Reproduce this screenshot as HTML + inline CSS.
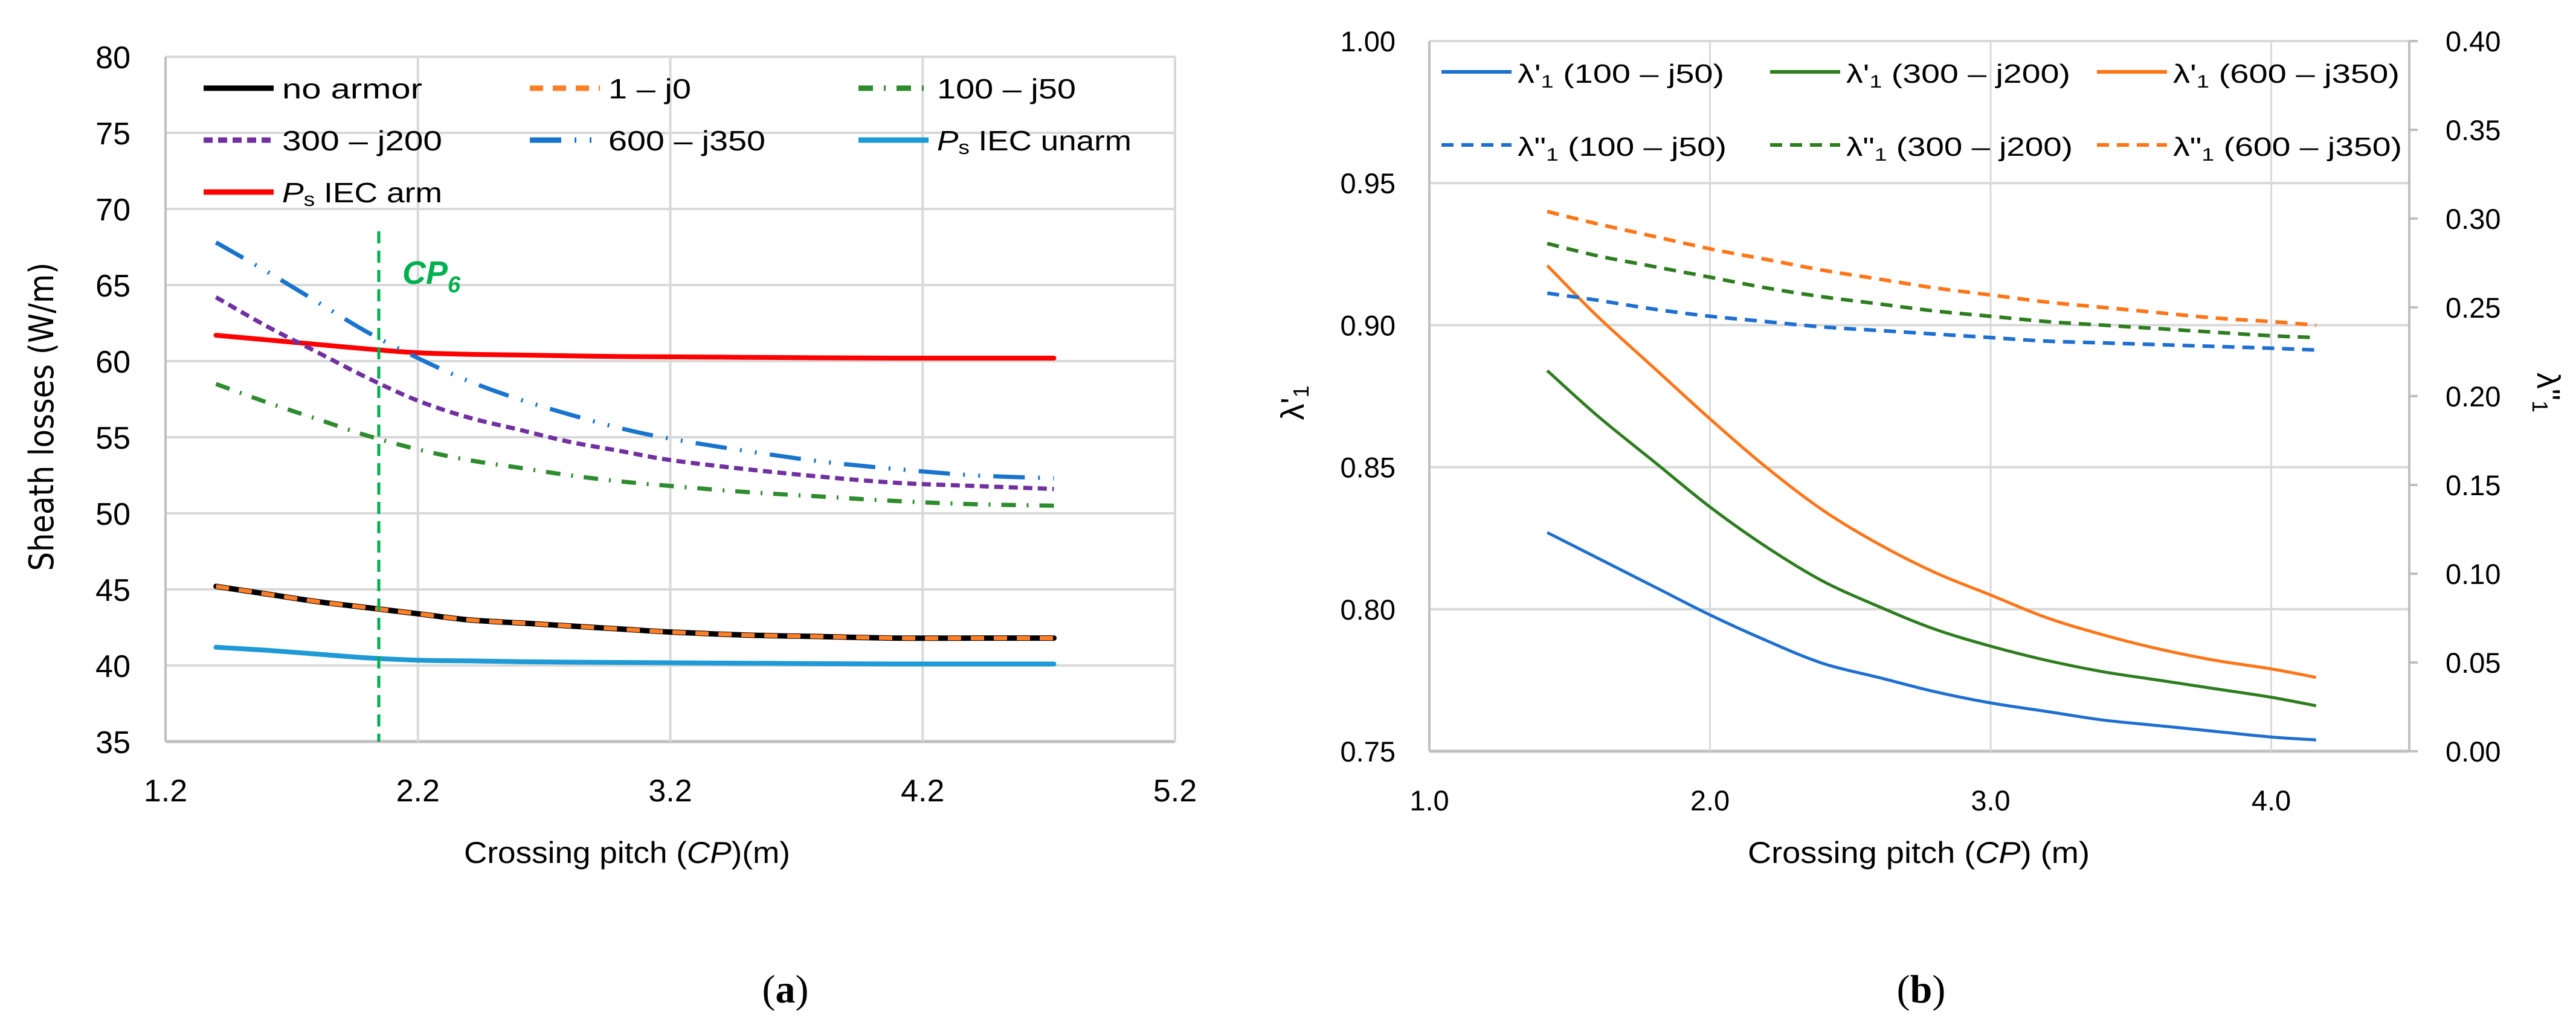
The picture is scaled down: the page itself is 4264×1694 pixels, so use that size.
<!DOCTYPE html>
<html><head><meta charset="utf-8">
<style>
html,body{margin:0;padding:0;background:#fff;}
svg{display:block;}
text{font-family:"Liberation Sans",sans-serif;fill:#000;}
</style></head>
<body>
<svg id="fig" width="4264" height="1694" viewBox="0 0 4264 1694" xmlns="http://www.w3.org/2000/svg">
<g id="chartA"></g>
<g id="chartB"></g>
</svg>
<script>
// ---------- Chart (a) data ----------
const aXTicks = [1.2, 2.2, 3.2, 4.2, 5.2];
const aXTickLabels = ["1.2", "2.2", "3.2", "4.2", "5.2"];
const aYTicks = [35, 40, 45, 50, 55, 60, 65, 70, 75, 80];
const aX = [1.4, 1.6, 1.8, 2.0, 2.2, 2.4, 2.6, 2.8, 3.0, 3.2, 3.5, 3.8, 4.1, 4.4, 4.72];
const noArmor = [45.2, 44.7, 44.2, 43.8, 43.4, 43.0, 42.8, 42.6, 42.4, 42.2, 42.0, 41.9, 41.8, 41.8, 41.8];
const r1j0 = [45.2, 44.7, 44.2, 43.8, 43.4, 43.0, 42.8, 42.6, 42.4, 42.2, 42.0, 41.9, 41.8, 41.8, 41.8];
const r100j50 = [58.5, 57.3, 56.2, 55.1, 54.2, 53.5, 53.0, 52.5, 52.1, 51.8, 51.4, 51.1, 50.8, 50.6, 50.5];
const r300j200 = [64.2, 62.3, 60.6, 58.9, 57.4, 56.3, 55.5, 54.7, 54.1, 53.5, 52.9, 52.4, 52.0, 51.8, 51.6];
const r600j350 = [67.8, 65.9, 63.9, 61.9, 60.2, 58.7, 57.5, 56.5, 55.6, 54.9, 54.1, 53.4, 52.9, 52.5, 52.3];
const iecUnarm = [41.2, 41.0, 40.75, 40.5, 40.35, 40.3, 40.25, 40.22, 40.2, 40.18, 40.15, 40.12, 40.1, 40.1, 40.1];
const iecArm = [61.7, 61.4, 61.1, 60.8, 60.55, 60.45, 60.4, 60.35, 60.3, 60.28, 60.25, 60.22, 60.2, 60.2, 60.2];
const cp6Value = 2.045;

// ---------- Chart (b) data ----------
const bXTicks = [1.0, 2.0, 3.0, 4.0];
const bXTickLabels = ["1.0", "2.0", "3.0", "4.0"];
const bYTicks = [0.75, 0.80, 0.85, 0.90, 0.95, 1.00];
const bYTickLabels = ["0.75", "0.80", "0.85", "0.90", "0.95", "1.00"];
const bY2Ticks = [0, 0.05, 0.10, 0.15, 0.20, 0.25, 0.30, 0.35, 0.40];
const bY2TickLabels = ["0.00", "0.05", "0.10", "0.15", "0.20", "0.25", "0.30", "0.35", "0.40"];
const bX = [1.42, 1.6, 1.8, 2.0, 2.2, 2.4, 2.6, 2.8, 3.0, 3.2, 3.4, 3.6, 3.8, 4.0, 4.16];
const l1_100 = [0.827, 0.818, 0.808, 0.798, 0.789, 0.781, 0.776, 0.771, 0.767, 0.764, 0.761, 0.759, 0.757, 0.755, 0.754];
const l1_300 = [0.884, 0.868, 0.852, 0.836, 0.822, 0.810, 0.801, 0.793, 0.787, 0.782, 0.778, 0.775, 0.772, 0.769, 0.766];
const l1_600 = [0.921, 0.903, 0.885, 0.867, 0.850, 0.835, 0.823, 0.813, 0.805, 0.797, 0.791, 0.786, 0.782, 0.779, 0.776];
const l2_100 = [0.258, 0.254, 0.249, 0.245, 0.242, 0.239, 0.237, 0.235, 0.233, 0.231, 0.230, 0.229, 0.228, 0.227, 0.226];
const l2_300 = [0.286, 0.279, 0.273, 0.267, 0.261, 0.256, 0.252, 0.248, 0.245, 0.242, 0.240, 0.238, 0.236, 0.234, 0.233];
const l2_600 = [0.304, 0.297, 0.290, 0.283, 0.277, 0.271, 0.266, 0.261, 0.257, 0.253, 0.250, 0.247, 0.244, 0.242, 0.240];

const NS = "http://www.w3.org/2000/svg";
function mk(parent, tag, attrs, text) {
  const e = document.createElementNS(NS, tag);
  for (const k in attrs) e.setAttribute(k, attrs[k]);
  if (text !== undefined) e.textContent = text;
  parent.appendChild(e);
  return e;
}
function smoothPath(pts) {
  let d = "M" + pts[0][0].toFixed(1) + "," + pts[0][1].toFixed(1);
  for (let i = 0; i < pts.length - 1; i++) {
    const p0 = pts[Math.max(i - 1, 0)], p1 = pts[i], p2 = pts[i + 1], p3 = pts[Math.min(i + 2, pts.length - 1)];
    const c1x = p1[0] + (p2[0] - p0[0]) / 6, c1y = p1[1] + (p2[1] - p0[1]) / 6;
    const c2x = p2[0] - (p3[0] - p1[0]) / 6, c2y = p2[1] - (p3[1] - p1[1]) / 6;
    d += " C" + c1x.toFixed(1) + "," + c1y.toFixed(1) + " " + c2x.toFixed(1) + "," + c2y.toFixed(1) + " " + p2[0].toFixed(1) + "," + p2[1].toFixed(1);
  }
  return d;
}

// ================= Chart A =================
(function () {
  const g = document.getElementById("chartA");
  const L = 274, R = 1945, T = 94, B = 1228;
  const xs = v => L + (v - 1.2) / 4 * (R - L);
  const ys = v => B - (v - 35) / 45 * (B - T);

  aYTicks.forEach(v => {
    const ln = mk(g, "line", {x1: L, x2: R, y1: ys(v), y2: ys(v), stroke: v === 35 ? "#bfbfbf" : "#d9d9d9", "stroke-width": v === 35 ? 5 : 4});
    
    
    const t = mk(g, "text", {x: 216, y: ys(v) + 19, "text-anchor": "end", "font-size": 52}, String(v));
    
    
  });
  aXTicks.forEach((v, i) => {
    if (i > 0) {
      const ln = mk(g, "line", {x1: xs(v), x2: xs(v), y1: T, y2: B, stroke: "#d9d9d9", "stroke-width": 4});
      
      
    }
    const t = mk(g, "text", {x: xs(v), y: 1327, "text-anchor": "middle", "font-size": 52}, aXTickLabels[i]);
    
    
  });
  const la = mk(g, "line", {x1: L, x2: L, y1: T, y2: B, stroke: "#bfbfbf", "stroke-width": 4});
  
  

  const series = [
    {name: "series-no-armor", vals: noArmor, color: "#000000", w: 9, dash: null},
    {name: "series-1-j0", vals: r1j0, color: "#ff7f27", w: 7, dash: "22 16"},
    {name: "series-100-j50", vals: r100j50, color: "#2e8b2e", w: 7, dash: "24 18 3 18"},
    {name: "series-300-j200", vals: r300j200, color: "#7030a0", w: 7, dash: "15 9"},
    {name: "series-600-j350", vals: r600j350, color: "#1874cd", w: 7, dash: "52 22 3 22 3 22"},
    {name: "series-iec-unarm", vals: iecUnarm, color: "#1e9ad6", w: 8, dash: null},
    {name: "series-iec-arm", vals: iecArm, color: "#ff0000", w: 8, dash: null}
  ];
  const order = [6, 5, 4, 3, 2, 0, 1];
  order.forEach(i => {
    const s = series[i];
    const pts = aX.map((x, k) => [xs(x), ys(s.vals[k])]);
    const a = {d: smoothPath(pts), fill: "none", stroke: s.color, "stroke-width": s.w, "stroke-linecap": s.dash ? "butt" : "round"};
    if (s.dash) a["stroke-dasharray"] = s.dash;
    const p = mk(g, "path", a);
    
    
  });

  const cp = mk(g, "line", {x1: xs(cp6Value), x2: xs(cp6Value), y1: 383, y2: B, stroke: "#00b050", "stroke-width": 5, "stroke-dasharray": "20 12"});
  
  
  const cpt = mk(g, "text", {x: 666, y: 470, "font-size": 54, "font-weight": "bold", "font-style": "italic", style: "fill:#00b050"});
  
  
  mk(cpt, "tspan", {}, "CP");
  mk(cpt, "tspan", {dy: 14, "font-size": 38}, "6");

  // legend
  const leg = [
    {lbl: ["no armor"], c: "#000", dash: null, x: 337, y: 146, tw: 232},
    {lbl: ["1 – j0"], c: "#ff7f27", dash: "22 16", x: 877, y: 146, tw: 137},
    {lbl: ["100 – j50"], c: "#2e8b2e", dash: "24 18 3 18", x: 1421, y: 146, tw: 230},
    {lbl: ["300 – j200"], c: "#7030a0", dash: "15 9", x: 337, y: 232, tw: 265},
    {lbl: ["600 – j350"], c: "#1874cd", dash: "52 22 3 22 3 22", x: 877, y: 232, tw: 260},
    {lbl: ["P", "s", " IEC unarm"], c: "#1e9ad6", dash: null, x: 1421, y: 232, tw: 322},
    {lbl: ["P", "s", " IEC arm"], c: "#ff0000", dash: null, x: 337, y: 318, tw: 265}
  ];
  leg.forEach(e => {
    const lg = mk(g, "g", {});
    
    
    const a = {x1: e.x, x2: e.x + 116, y1: e.y, y2: e.y, stroke: e.c, "stroke-width": 9};
    if (e.dash) a["stroke-dasharray"] = e.dash;
    mk(lg, "line", a);
    const t = mk(lg, "text", {x: e.x + 130, y: e.y + 17, "font-size": 46, textLength: e.tw, lengthAdjust: "spacingAndGlyphs"});
    if (e.lbl.length === 1) t.textContent = e.lbl[0];
    else {
      mk(t, "tspan", {"font-style": "italic"}, e.lbl[0]);
      mk(t, "tspan", {"font-size": 32, dy: 6}, e.lbl[1]);
      mk(t, "tspan", {dy: -6}, e.lbl[2]);
    }
  });

  const yt = mk(g, "text", {x: 0, y: 0, transform: "translate(88,690) rotate(-90)", "text-anchor": "middle", "font-size": 56, textLength: 511, lengthAdjust: "spacingAndGlyphs", style: "font-family:'DejaVu Sans',sans-serif"}, "Sheath losses (W/m)");
  
  
  const xt = mk(g, "text", {x: 1038, y: 1429, "text-anchor": "middle", "font-size": 50, textLength: 540, lengthAdjust: "spacingAndGlyphs"});
  
  
  mk(xt, "tspan", {}, "Crossing pitch (");
  mk(xt, "tspan", {"font-style": "italic"}, "CP");
  mk(xt, "tspan", {}, ")(m)");
  const pl = mk(g, "text", {x: 1300, y: 1660, "text-anchor": "middle", "font-size": 66, style: "font-family:'Liberation Serif',serif"});
  
  
  mk(pl, "tspan", {}, "(");
  mk(pl, "tspan", {"font-weight": "bold"}, "a");
  mk(pl, "tspan", {}, ")");
})();

// ================= Chart B =================
(function () {
  const g = document.getElementById("chartB");
  const L = 2366, R = 3988, T = 68, B = 1244;
  const xs = v => L + (v - 1.0) * 464.5;
  const ys = v => B - (v - 0.75) / 0.25 * (B - T);
  const ys2 = v => B - v / 0.40 * (B - T);

  bYTicks.forEach((v, i) => {
    const ln = mk(g, "line", {x1: L, x2: R, y1: ys(v), y2: ys(v), stroke: i === 0 ? "#bfbfbf" : "#d9d9d9", "stroke-width": i === 0 ? 5 : 4});
    
    
    const t = mk(g, "text", {x: 2310, y: ys(v) + 17, "text-anchor": "end", "font-size": 47}, bYTickLabels[i]);
    
    
  });
  bY2Ticks.forEach((v, i) => {
    const tk = mk(g, "line", {x1: R, x2: R + 14, y1: ys2(v), y2: ys2(v), stroke: "#bfbfbf", "stroke-width": 4});
    
    
    const t = mk(g, "text", {x: 4048, y: ys2(v) + 17, "font-size": 47}, bY2TickLabels[i]);
    
    
  });
  bXTicks.forEach((v, i) => {
    if (i > 0) {
      const ln = mk(g, "line", {x1: xs(v), x2: xs(v), y1: T, y2: B, stroke: "#d9d9d9", "stroke-width": 3});
      
      
    }
    const t = mk(g, "text", {x: xs(v), y: 1342, "text-anchor": "middle", "font-size": 47}, bXTickLabels[i]);
    
    
  });
  const la = mk(g, "line", {x1: L, x2: L, y1: T, y2: B, stroke: "#bfbfbf", "stroke-width": 4});
  
  
  const ra = mk(g, "line", {x1: R, x2: R, y1: T, y2: B, stroke: "#bfbfbf", "stroke-width": 4});
  
  

  const series = [
    {name: "lambda1p-100-j50", vals: l1_100, color: "#1f6fd1", dash: null, y2: false},
    {name: "lambda1p-300-j200", vals: l1_300, color: "#2e7d1f", dash: null, y2: false},
    {name: "lambda1p-600-j350", vals: l1_600, color: "#ff7518", dash: null, y2: false},
    {name: "lambda1pp-100-j50", vals: l2_100, color: "#1f6fd1", dash: "20 13", y2: true},
    {name: "lambda1pp-300-j200", vals: l2_300, color: "#2e7d1f", dash: "20 13", y2: true},
    {name: "lambda1pp-600-j350", vals: l2_600, color: "#ff7518", dash: "20 13", y2: true}
  ];
  series.forEach(s => {
    const pts = bX.map((x, k) => [xs(x), s.y2 ? ys2(s.vals[k]) : ys(s.vals[k])]);
    const a = {d: smoothPath(pts), fill: "none", stroke: s.color, "stroke-width": s.dash ? 6 : 5};
    if (s.dash) a["stroke-dasharray"] = s.dash;
    const p = mk(g, "path", a);
    
    
  });

  const leg = [
    {p: "'", lbl: " (100 – j50)", c: "#1f6fd1", dash: null, x: 2386, y: 119, tw: 342},
    {p: "'", lbl: " (300 – j200)", c: "#2e7d1f", dash: null, x: 2930, y: 119, tw: 371},
    {p: "'", lbl: " (600 – j350)", c: "#ff7518", dash: null, x: 3471, y: 119, tw: 375},
    {p: "\"", lbl: " (100 – j50)", c: "#1f6fd1", dash: "20 13", x: 2386, y: 240, tw: 346},
    {p: "\"", lbl: " (300 – j200)", c: "#2e7d1f", dash: "20 13", x: 2930, y: 240, tw: 375},
    {p: "\"", lbl: " (600 – j350)", c: "#ff7518", dash: "20 13", x: 3471, y: 240, tw: 379}
  ];
  leg.forEach(e => {
    const lg = mk(g, "g", {});
    
    
    const a = {x1: e.x, x2: e.x + 116, y1: e.y, y2: e.y, stroke: e.c, "stroke-width": 6};
    if (e.dash) a["stroke-dasharray"] = e.dash;
    mk(lg, "line", a);
    const t = mk(lg, "text", {x: e.x + 126, y: e.y + 18, "font-size": 44, textLength: e.tw, lengthAdjust: "spacingAndGlyphs"});
    mk(t, "tspan", {}, "λ" + e.p);
    mk(t, "tspan", {"font-size": 30, dy: 8}, "1");
    mk(t, "tspan", {dy: -8}, e.lbl);
  });

  const yt = mk(g, "text", {x: 0, y: 0, transform: "translate(2158,667) rotate(-90)", "text-anchor": "middle", "font-size": 54});
  
  
  mk(yt, "tspan", {}, "λ'");
  mk(yt, "tspan", {"font-size": 36, dy: 8}, "1");
  const y2t = mk(g, "text", {x: 0, y: 0, transform: "translate(4200,650) rotate(90)", "text-anchor": "middle", "font-size": 54});
  
  
  mk(y2t, "tspan", {}, "λ\"");
  mk(y2t, "tspan", {"font-size": 36, dy: 8}, "1");
  const xt = mk(g, "text", {x: 3176, y: 1429, "text-anchor": "middle", "font-size": 50, textLength: 566, lengthAdjust: "spacingAndGlyphs"});
  
  
  mk(xt, "tspan", {}, "Crossing pitch (");
  mk(xt, "tspan", {"font-style": "italic"}, "CP");
  mk(xt, "tspan", {}, ") (m)");
  const pl = mk(g, "text", {x: 3180, y: 1660, "text-anchor": "middle", "font-size": 66, style: "font-family:'Liberation Serif',serif"});
  
  
  mk(pl, "tspan", {}, "(");
  mk(pl, "tspan", {"font-weight": "bold"}, "b");
  mk(pl, "tspan", {}, ")");
})();
</script>
</body></html>
